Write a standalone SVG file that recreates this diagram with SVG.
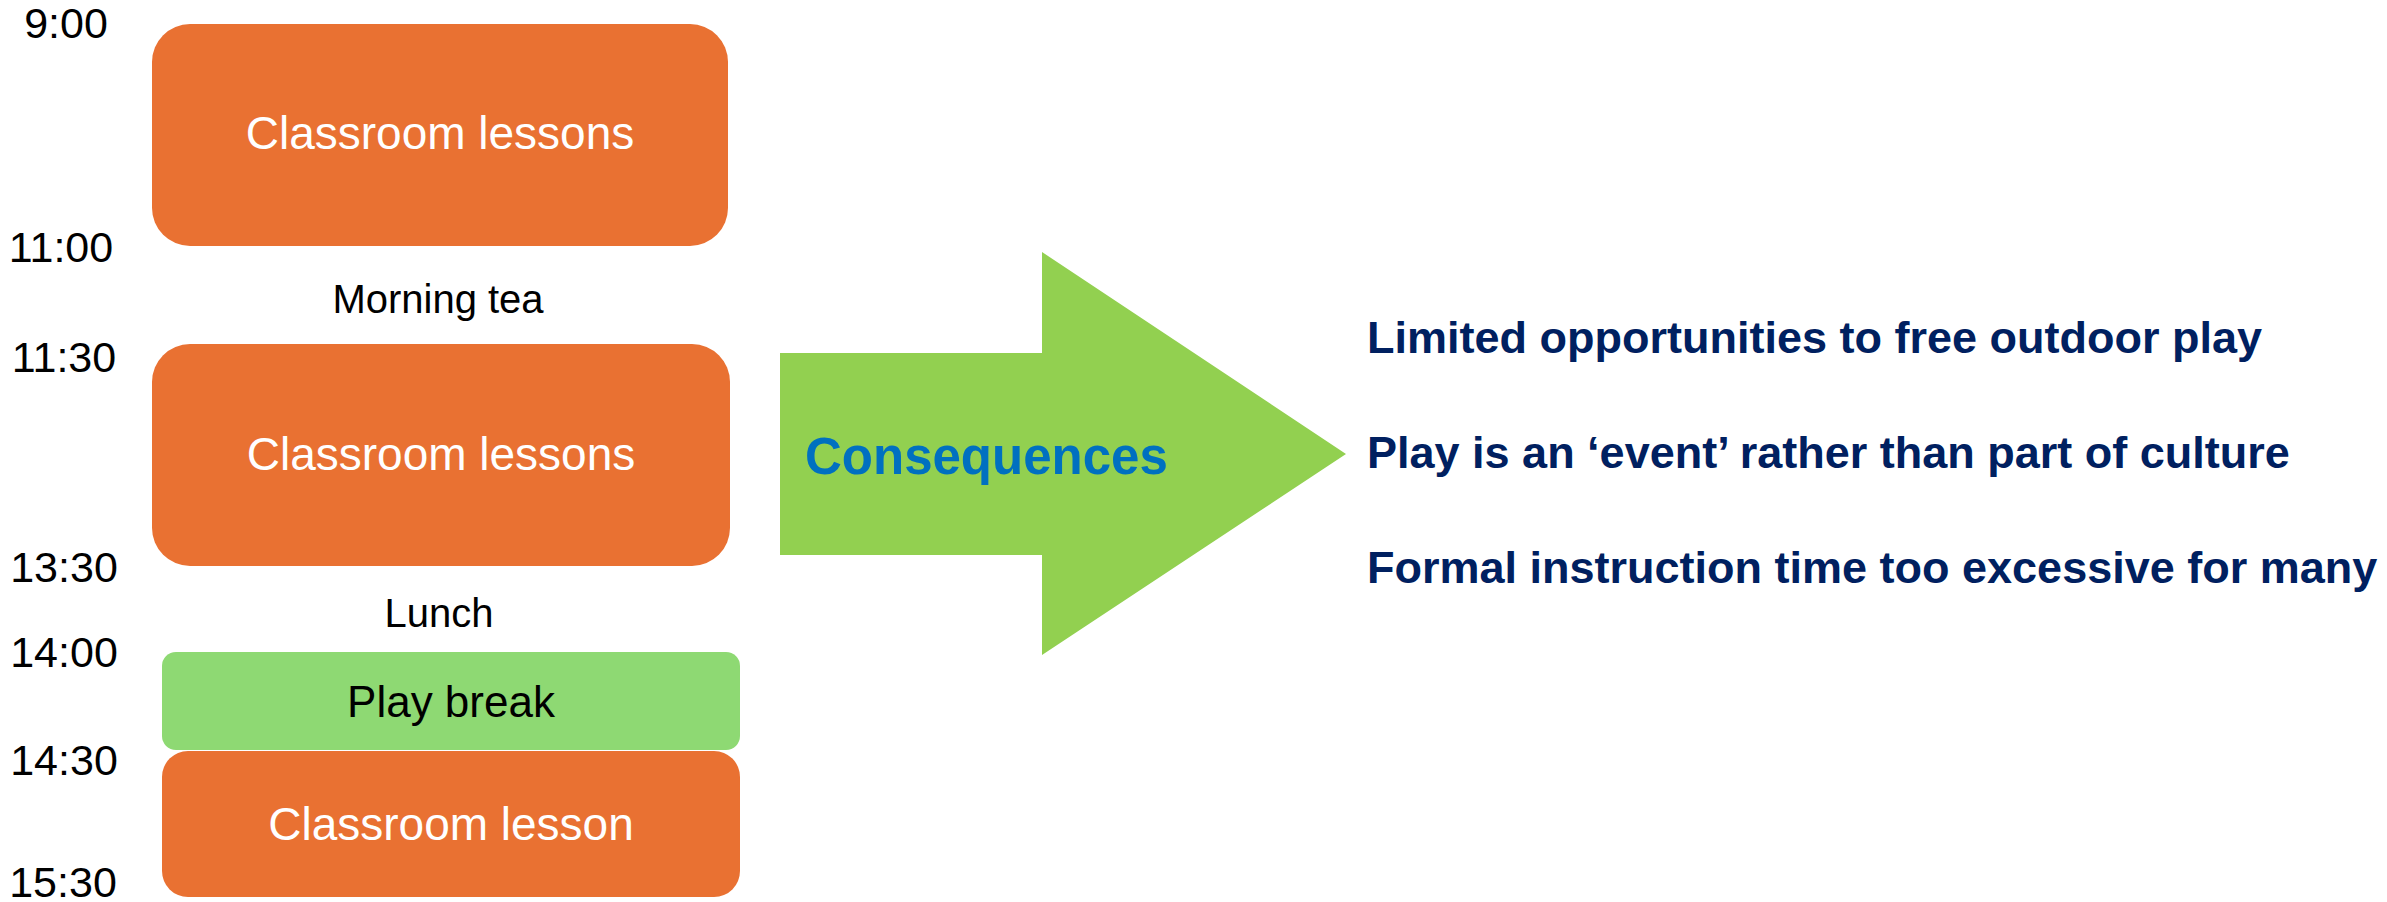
<svg xmlns="http://www.w3.org/2000/svg" width="2387" height="902" viewBox="0 0 2387 902">
<style>
.time{font-family:"Liberation Sans",Arial,sans-serif;font-size:43px;fill:#000;text-anchor:middle}
.lbl{font-family:"Liberation Sans",Arial,sans-serif;font-size:40px;fill:#000;text-anchor:middle}
.box{fill:#E97132}
.boxt{font-family:"Liberation Sans",Arial,sans-serif;font-size:46px;fill:#fff;text-anchor:middle}
.cons{font-family:"Liberation Sans",Arial,sans-serif;font-size:45px;font-weight:bold;fill:#002060}
</style>
<rect width="2387" height="902" fill="#fff"/>
<g id="times">
<text class="time" x="66" y="38">9:00</text>
<text class="time" x="61" y="262">11:00</text>
<text class="time" x="64" y="372">11:30</text>
<text class="time" x="64" y="582">13:30</text>
<text class="time" x="64" y="667">14:00</text>
<text class="time" x="64" y="775">14:30</text>
<text class="time" x="63" y="897">15:30</text>
</g>
<g id="lessons1">
<rect class="box" x="152" y="24" width="576" height="222" rx="38" ry="38"/>
<text class="boxt" x="440" y="149">Classroom lessons</text>
</g>
<g id="morning-tea">
<text class="lbl" x="438" y="313">Morning tea</text>
</g>
<g id="lessons2">
<rect class="box" x="152" y="344" width="578" height="222" rx="38" ry="38"/>
<text class="boxt" x="441" y="470">Classroom lessons</text>
</g>
<g id="lunch">
<text class="lbl" x="439" y="627">Lunch</text>
</g>
<g id="play-break">
<rect x="162" y="652" width="578" height="98" rx="14" ry="14" fill="#8ED973"/>
<text x="451" y="717" font-family="Liberation Sans, Arial, sans-serif" font-size="44" fill="#000" text-anchor="middle">Play break</text>
</g>
<g id="lesson3">
<rect class="box" x="162" y="751" width="578" height="146" rx="26" ry="26"/>
<text class="boxt" x="451" y="840">Classroom lesson</text>
</g>
<g id="connectors">
<polygon points="780,353 1042,353 1042,252 1346,454 1042,655 1042,555 780,555" fill="#92D050"/>
<text x="805" y="474" font-family="Liberation Sans, Arial, sans-serif" font-size="51" font-weight="bold" fill="#0070C0">Consequences</text>
</g>
<g id="consequences">
<text class="cons" x="1367" y="353">Limited opportunities to free outdoor play</text>
<text class="cons" x="1367" y="468">Play is an ‘event’ rather than part of culture</text>
<text class="cons" x="1367" y="583">Formal instruction time too excessive for many</text>
</g>
</svg>
